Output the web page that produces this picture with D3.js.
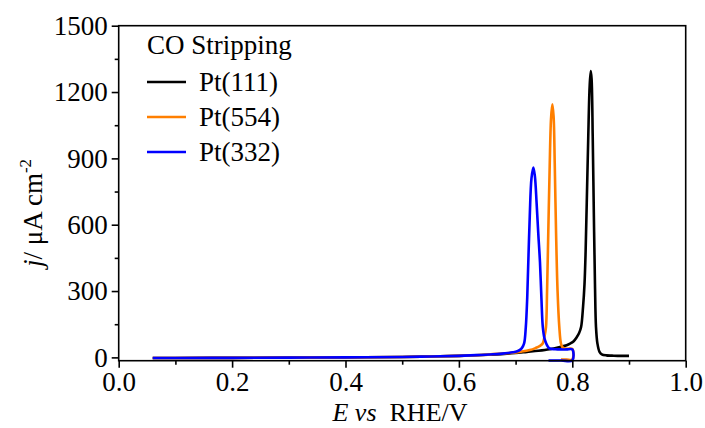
<!DOCTYPE html>
<html><head><meta charset="utf-8">
<script src="https://cdn.jsdelivr.net/npm/d3@7"></script>
<style>
html,body{margin:0;padding:0;background:#fff;}
svg{display:block;font-family:"Liberation Serif","Times New Roman",serif;}
</style></head>
<body>
<svg id="c" width="705" height="428"></svg>
<script>
// ---- data ----
const seriesNames = ["Pt(111)", "Pt(554)", "Pt(332)"];
const seriesColors = ["#000000", "#ff7f00", "#0000ff"];
const legendTitle = "CO Stripping";

const E111 = [0.06,0.1,0.2,0.3,0.4,0.5,0.55,0.6,0.65,0.68,0.7,0.72,0.74,0.76,0.78,0.79,0.796,0.802,0.808,0.812,0.8155,0.819,0.8215,0.8235,0.8255,0.828,0.8305,0.8325,0.834,0.836,0.838,0.840,0.8418,0.8443,0.848,0.852,0.86,0.87,0.88,0.9];
const j111 = [-3,-3,-2,-1,0,2,4,7,12,16,20,25,30,37,48,55,62,72,92,110,137,230,330,480,700,980,1220,1295,1260,1000,647,330,137,63,25,14,9,8,7,7];

const E554 = [0.06,0.1,0.2,0.3,0.4,0.5,0.55,0.6,0.64,0.67,0.69,0.71,0.725,0.735,0.743,0.7478,0.751,0.7536,0.7555,0.7577,0.760,0.7625,0.7648,0.767,0.769,0.7713,0.774,0.7771,0.780,0.783,0.787,0.792,0.8,0.8,0.79,0.78];
const j554 = [-3,-3,-2,-1,0,2,4,7,11,16,20,26,33,42,52,63,95,137,300,572,850,1080,1144,1090,880,572,300,137,63,45,40,39,38,-10,-10,-10];

const E332 = [0.06,0.1,0.2,0.3,0.4,0.5,0.55,0.6,0.63,0.66,0.68,0.695,0.705,0.711,0.715,0.718,0.7205,0.7224,0.725,0.728,0.7313,0.734,0.737,0.740,0.743,0.7455,0.748,0.751,0.754,0.757,0.76,0.77,0.78,0.79,0.8,0.8,0.78,0.758];
const j332 = [-3,-3,-2,-1,0,2,4,7,10,14,18,23,30,42,63,137,270,430,640,810,859,820,700,560,430,270,137,85,63,48,40,37,36,36,36,-14,-14,-14];

const xTicks = [0.0,0.2,0.4,0.6,0.8,1.0];
const xMinor = [0.1,0.3,0.5,0.7,0.9];
const yTicks = [0,300,600,900,1200,1500];
const yMinor = [150,450,750,1050,1350];

// ---- layout ----
const svg = d3.select("#c");
const L = 118.7, R = 685.7, T = 25.7, B = 360.7;
const x = d3.scaleLinear().domain([0,1]).range([L,R]);
const y = d3.scaleLinear().domain([-15,1500]).range([B,T]);
const FS = 27;

const series = [
  {name: seriesNames[0], color: seriesColors[0], pts: d3.zip(E111, j111)},
  {name: seriesNames[1], color: seriesColors[1], pts: d3.zip(E554, j554)},
  {name: seriesNames[2], color: seriesColors[2], pts: d3.zip(E332, j332)}
];

const line = d3.line().x(d=>x(d[0])).y(d=>y(d[1])).curve(d3.curveCatmullRom.alpha(0.5));
const g = svg.append("g");
series.forEach(s=>{
  g.append("path").attr("d", line(s.pts)).attr("fill","none")
   .attr("stroke", s.color).attr("stroke-width", 2.6).attr("stroke-linejoin","round");
});

// frame
svg.append("rect").attr("x",L).attr("y",T).attr("width",R-L).attr("height",B-T)
  .attr("fill","none").attr("stroke","#000").attr("stroke-width",1.6);

// axes
const xAxis = svg.append("g").attr("transform",`translate(0,${B})`)
  .call(d3.axisBottom(x).tickValues(xTicks).tickFormat(d3.format(".1f")).tickSize(7).tickPadding(4).tickSizeOuter(0));
const xAxisMinor = svg.append("g").attr("transform",`translate(0,${B})`)
  .call(d3.axisBottom(x).tickValues(xMinor).tickFormat("").tickSize(4).tickSizeOuter(0));
const yAxis = svg.append("g").attr("transform",`translate(${L},0)`)
  .call(d3.axisLeft(y).tickValues(yTicks).tickFormat(d3.format("d")).tickSize(7).tickPadding(4).tickSizeOuter(0));
const yAxisMinor = svg.append("g").attr("transform",`translate(${L},0)`)
  .call(d3.axisLeft(y).tickValues(yMinor).tickFormat("").tickSize(4).tickSizeOuter(0));
[xAxis,xAxisMinor,yAxis,yAxisMinor].forEach(a=>{
  a.select(".domain").remove();
  a.selectAll("line").attr("stroke","#000").attr("stroke-width",1.6);
  a.selectAll("text").attr("font-family","Liberation Serif, Times New Roman, serif")
   .attr("font-size",FS).attr("fill","#000");
});

// axis titles
const xt = svg.append("text").attr("x",400).attr("y",421).attr("text-anchor","middle")
  .attr("font-size",26).attr("fill","#000");
xt.append("tspan").attr("font-style","italic").text("E vs");
xt.append("tspan").text("\u00a0\u00a0RHE/V");

const yt = svg.append("text").attr("transform","translate(42,213) rotate(-90)")
  .attr("text-anchor","middle").attr("font-size",FS).attr("fill","#000");
yt.append("tspan").attr("font-style","italic").text("j");
yt.append("tspan").text("/ \u03bcA cm");
yt.append("tspan").attr("font-size",17).attr("dy",-11).text("-2");

// legend
const lg = svg.append("g");
lg.append("text").attr("x",147).attr("y",54).attr("font-size",FS).attr("fill","#000").text(legendTitle);
series.forEach((s,i)=>{
  const yy = 82 + i*35;
  lg.append("line").attr("x1",147).attr("x2",186).attr("y1",yy).attr("y2",yy)
    .attr("stroke",s.color).attr("stroke-width",2.6);
  lg.append("text").attr("x",199).attr("y",yy+9).attr("font-size",FS).attr("fill","#000").text(s.name);
});
</script>
</body></html>
